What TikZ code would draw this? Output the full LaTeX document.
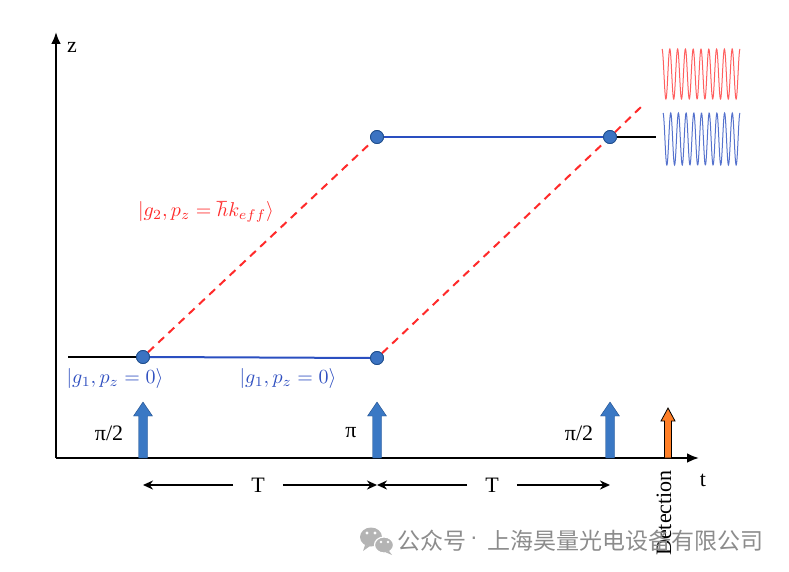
\documentclass[tikz,border=0pt]{standalone}
\usepackage{graphicx}
\usepackage{fontspec}
\setmainfont{Liberation Serif}
\newfontfamily\cjk{Noto Sans CJK SC}
\newfontfamily\wmsans{Liberation Sans}
\usetikzlibrary{arrows.meta}
\definecolor{dotblue}{HTML}{3B73C2}
\definecolor{dotedge}{HTML}{1F4E8C}
\definecolor{pathblue}{HTML}{2A4FC0}
\definecolor{labblue}{HTML}{3050C0}
\definecolor{pathred}{HTML}{FF2A2A}
\definecolor{pulseblue}{HTML}{3A78C4}
\definecolor{pulseorange}{HTML}{FF7F27}
\definecolor{wmgray}{HTML}{8C8C8C}
\definecolor{iconof}{HTML}{B4B4B4}
\tikzset{
  axis/.style={line width=2.4pt,-{Latex[length=12pt,width=10pt]}},
  ground/.style={line width=2pt,black},
  bluepath/.style={line width=2pt,pathblue},
  redpath/.style={line width=2pt,pathred,dash pattern=on 8pt off 6pt},
  atomdot/.style={circle,fill=dotblue,draw=dotedge,line width=0.8pt,minimum size=13pt,inner sep=0pt},
  txt/.style={font=\fontsize{22}{26}\selectfont,inner sep=0pt},
  mlab/.style={inner sep=0pt},
  tarr/.style={line width=2pt,-{Stealth[length=10pt,width=9pt]}},
  wmtxt/.style={font=\cjk\fontsize{23}{26}\selectfont,text=wmgray,anchor=west,inner sep=0pt},
}
\begin{document}
\begin{tikzpicture}[x=1pt,y=-1pt]
\useasboundingbox (0,0) rectangle (789,572);
% axes
\coordinate (O) at (56,458);
\coordinate (ztop) at (56,32);
\coordinate (tend) at (699,458);
\draw[axis] (O) -- (ztop);
\draw[axis] (O) -- (tend);
\node[txt] (zl) at (72,47) {z};
\node[txt] (tl) at (703,480) {t};
% atoms
\node[atomdot] (a1) at (143,357) {};
\node[atomdot] (a2) at (377,358) {};
\node[atomdot] (a3) at (377,137) {};
\node[atomdot] (a4) at (610,137) {};
\coordinate (s0) at (68,357);
\coordinate (s5) at (656,137);
\coordinate (rend) at (642,106);
\draw[ground] (s0) -- (a1.west);
\draw[ground] (a4.east) -- (s5);
\draw[bluepath] (a1.east) -- (a2.west);
\draw[bluepath] (a3.east) -- (a4.west);
\draw[redpath] (a1) -- (a3);
\draw[redpath] (a2) -- (a4);
\draw[redpath] (a4) -- (rend);
\node[atomdot] at (a1) {};
\node[atomdot] at (a2) {};
\node[atomdot] at (a3) {};
\node[atomdot] at (a4) {};
% labels
\node[mlab,text=labblue] (l1) at (115,378) {\scalebox{2.0}{$|g_1,p_z=0\rangle$}};
\node[mlab,text=labblue] (l2) at (288,378) {\scalebox{2.0}{$|g_1,p_z=0\rangle$}};
\node[mlab,text=pathred] (l3) at (206,212) {\scalebox{2.0}{$|g_2,p_z=\hbar k_{eff}\rangle$}};
% pulses
\foreach \px in {143,377,610}{
  \fill[pulseblue,draw=dotedge,line width=0.4pt] (\px-4.5,458) -- (\px-4.5,416) -- (\px-9.5,416) -- (\px,402) -- (\px+9.5,416) -- (\px+4.5,416) -- (\px+4.5,458) -- cycle;
}
\fill[pulseorange,draw=black,line width=0.8pt] (664.5,458) -- (664.5,421) -- (661,421) -- (668,408) -- (675,421) -- (671.5,421) -- (671.5,458) -- cycle;
\node[txt] (pl1) at (109,433) {π/2};
\node[txt] (pl2) at (351,433) {π};
\node[txt] (pl3) at (579,433) {π/2};
\node[txt,rotate=90] (det) at (664,513) {Detection};
% T arrows
\coordinate (b0) at (143,485);
\coordinate (b1) at (377,485);
\coordinate (b2) at (610,485);
\node[txt] (T1) at (258,485) {T};
\node[txt] (T2) at (492,485) {T};
\draw[tarr] (T1.west) ++(-18,0) -- (b0);
\draw[tarr] (T1.east) ++(18,0) -- (b1);
\draw[tarr] (T2.west) ++(-18,0) -- (b1);
\draw[tarr] (T2.east) ++(18,0) -- (b2);
% waves
\draw[pathred!75,line width=1pt] plot[domain=0:78,samples=300] ({662+\x},{74-25*cos(\x/78*10*360)});
\draw[pathblue!80,line width=1pt] plot[domain=0:77,samples=300] ({663+\x},{139-26*cos(\x/77*10*360)});
% watermark
\fill[iconof] (371,537) ellipse (11pt and 9.5pt);
\fill[iconof] (365,545) -- (363,551) -- (370,546) -- cycle;
\fill[iconof,draw=white,line width=1.2pt] (384,545) ellipse (9.5pt and 8pt);
\fill[iconof] (389,551) -- (392,555) -- (385,552) -- cycle;
\fill[white] (367,533) circle (1.6pt) (375,533) circle (1.6pt) (381,542) circle (1.3pt) (388,542) circle (1.3pt);
\node[wmtxt] (wm1) at (397,541) {公众号};
\node[wmtxt,font=\wmsans\fontsize{23}{26}\selectfont,anchor=center] (wm2) at (474,541) {·};
\node[wmtxt] (wm3) at (487,541) {上海昊量光电设备有限公司};
\end{tikzpicture}
\end{document}
